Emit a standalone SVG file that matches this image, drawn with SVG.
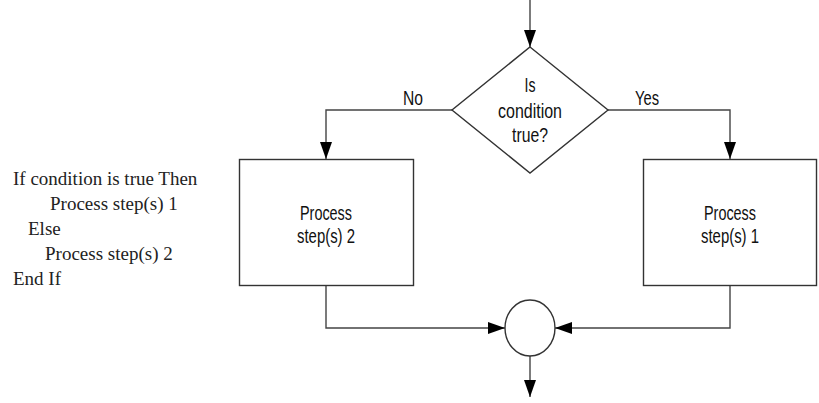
<svg xmlns="http://www.w3.org/2000/svg" width="819" height="403" viewBox="0 0 819 403">
<defs>
<style>
.shape{fill:#fff;stroke:#333;stroke-width:1.4}
.conn{fill:none;stroke:#444;stroke-width:1.4}
.lbl{font-family:"Liberation Sans",Arial,sans-serif;font-size:19.5px;fill:#111;text-anchor:middle}
.code{font-family:"Liberation Serif",serif;font-size:19px;fill:#222}
</style>
<marker id="arr" viewBox="0 0 17 12" refX="17" refY="6" markerWidth="17" markerHeight="12" markerUnits="userSpaceOnUse" orient="auto">
<path d="M0,0 L17,6 L0,12 Z" fill="#000"/>
</marker>
</defs>
<rect width="819" height="403" fill="#fff"/>
<g id="code">
<text class="code" x="13" y="185">If condition is true Then</text>
<text class="code" x="50" y="210">Process step(s) 1</text>
<text class="code" x="28" y="235">Else</text>
<text class="code" x="45" y="260">Process step(s) 2</text>
<text class="code" x="13" y="285">End If</text>
</g>
<g id="connectors">
<line class="conn" x1="530" y1="0" x2="530" y2="47" marker-end="url(#arr)"/>
<polyline class="conn" points="452,110 326,110 326,159" marker-end="url(#arr)"/>
<polyline class="conn" points="608,110 730,110 730,159" marker-end="url(#arr)"/>
<polyline class="conn" points="326,286 326,328 505,328" marker-end="url(#arr)"/>
<polyline class="conn" points="730,286 730,328 555,328" marker-end="url(#arr)"/>
<line class="conn" x1="530" y1="356" x2="530" y2="397" marker-end="url(#arr)"/>
<text class="lbl" x="413" y="105" textLength="20" lengthAdjust="spacingAndGlyphs">No</text>
<text class="lbl" x="647" y="105" textLength="24" lengthAdjust="spacingAndGlyphs">Yes</text>
</g>
<g id="decision">
<polygon class="shape" points="530,47 608,110 530,173 452,110"/>
<text class="lbl" x="530" y="92" textLength="11" lengthAdjust="spacingAndGlyphs">Is</text>
<text class="lbl" x="530" y="118" textLength="64" lengthAdjust="spacingAndGlyphs">condition</text>
<text class="lbl" x="530" y="142" textLength="36" lengthAdjust="spacingAndGlyphs">true?</text>
</g>
<g id="process2">
<rect class="shape" x="239.5" y="159.5" width="174" height="126"/>
<text class="lbl" x="326" y="220" textLength="52" lengthAdjust="spacingAndGlyphs">Process</text>
<text class="lbl" x="326" y="243" textLength="58" lengthAdjust="spacingAndGlyphs">step(s) 2</text>
</g>
<g id="process1">
<rect class="shape" x="643.5" y="159.5" width="173" height="126"/>
<text class="lbl" x="730" y="220" textLength="52" lengthAdjust="spacingAndGlyphs">Process</text>
<text class="lbl" x="730" y="243" textLength="58" lengthAdjust="spacingAndGlyphs">step(s) 1</text>
</g>
<g id="join">
<ellipse class="shape" cx="530" cy="328" rx="25" ry="28"/>
</g>
</svg>
